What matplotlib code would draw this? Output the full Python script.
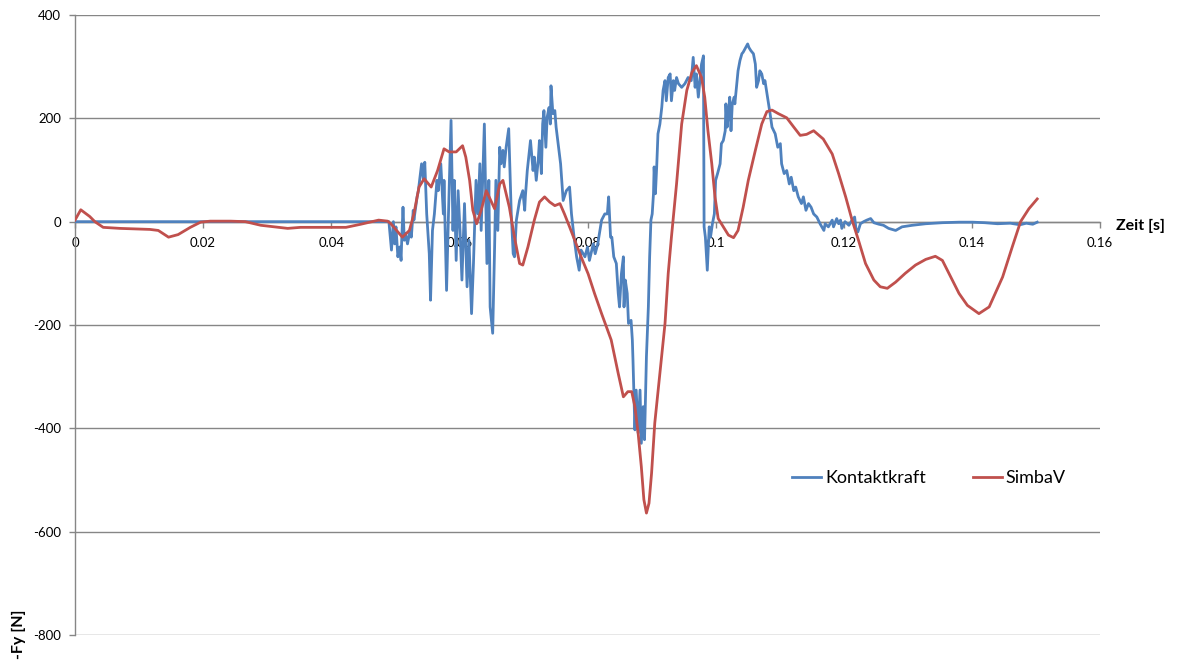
import matplotlib
matplotlib.use("Agg")
import matplotlib.pyplot as plt
import matplotlib.transforms as mtransforms

plt.rcParams['font.family'] = ['Lato', 'DejaVu Sans']

# Kontaktkraft (measured contact force), time in s, force in N
kk_time = [
    0, 0.0488, 0.0490, 0.0494, 0.0497, 0.0499, 0.0501, 0.0504, 0.0507, 0.0509, 0.0510, 0.0512, 0.0514, 0.0516, 0.0519, 0.0523, 0.0525, 0.0528, 0.0529, 0.0534,
    0.0536, 0.0541, 0.0544, 0.0546, 0.0549, 0.0553, 0.0555, 0.0558, 0.0561, 0.0565, 0.0567, 0.0571, 0.0575, 0.0576, 0.0580, 0.0583, 0.0587, 0.0590, 0.0592, 0.0595,
    0.0598, 0.0601, 0.0604, 0.0608, 0.0612, 0.0615, 0.0619, 0.0622, 0.0626, 0.0629, 0.0632, 0.0634, 0.0639, 0.0643, 0.0646, 0.0648, 0.0652, 0.0655, 0.0657, 0.0660,
    0.0663, 0.0665, 0.0668, 0.0670, 0.0673, 0.0677, 0.0681, 0.0684, 0.0686, 0.0689, 0.0694, 0.0699, 0.0702, 0.0703, 0.0706, 0.0711, 0.0715, 0.0717, 0.0720, 0.0723,
    0.0725, 0.0728, 0.0730, 0.0732, 0.0735, 0.0737, 0.0740, 0.0742, 0.0743, 0.0746, 0.0749, 0.0751, 0.0758, 0.0762, 0.0767, 0.0772, 0.0775, 0.0779, 0.0783, 0.0787,
    0.0790, 0.0796, 0.0800, 0.0803, 0.0809, 0.0812, 0.0816, 0.0822, 0.0827, 0.0831, 0.0833, 0.0836, 0.0838, 0.0841, 0.0845, 0.0848, 0.0850, 0.0853, 0.0856, 0.0857,
    0.0859, 0.0862, 0.0864, 0.0868, 0.0870, 0.0871, 0.0874, 0.0876, 0.0879, 0.0882, 0.0884, 0.0887, 0.0889, 0.0892, 0.0895, 0.0897, 0.0899, 0.0901, 0.0903, 0.0904,
    0.0906, 0.0908, 0.0910, 0.0913, 0.0916, 0.0918, 0.0921, 0.0923, 0.0926, 0.0929, 0.0931, 0.0934, 0.0936, 0.0939, 0.0942, 0.0947, 0.0952, 0.0957, 0.0962, 0.0965,
    0.0968, 0.0970, 0.0973, 0.0975, 0.0978, 0.0981, 0.0982, 0.0984, 0.0987, 0.0990, 0.0992, 0.0995, 0.0998, 0.1000, 0.1003, 0.1007, 0.1009, 0.1012, 0.1015, 0.1016,
    0.1018, 0.1020, 0.1022, 0.1024, 0.1026, 0.1029, 0.1030, 0.1033, 0.1035, 0.1038, 0.1041, 0.1043, 0.1047, 0.1050, 0.1052, 0.1055, 0.1059, 0.1062, 0.1064, 0.1067,
    0.1069, 0.1072, 0.1075, 0.1077, 0.1081, 0.1085, 0.1088, 0.1093, 0.1097, 0.1101, 0.1103, 0.1107, 0.1111, 0.1115, 0.1118, 0.1122, 0.1125, 0.1129, 0.1134, 0.1137,
    0.1141, 0.1145, 0.1149, 0.1153, 0.1158, 0.1163, 0.1169, 0.1171, 0.1176, 0.1182, 0.1184, 0.1189, 0.1192, 0.1195, 0.1197, 0.1202, 0.1208, 0.1213, 0.1217, 0.1219,
    0.1222, 0.1226, 0.1231, 0.1236, 0.1242, 0.1247, 0.1255, 0.1262, 0.1270, 0.1281, 0.1291, 0.1307, 0.1328, 0.1354, 0.1380, 0.1401, 0.1420, 0.1440, 0.1460, 0.1475,
    0.1485, 0.1495, 0.1502,
]
kk_force = [
    0, 0, 0, -55, 0, -43, -10, -68, -49, -75, -36, 28, -36, -23, -43, -17, -30, 22, 3, 48,
    60, 112, 80, 115, 15, -62, -152, -17, 15, 80, 60, 112, 15, 80, -133, 15, 196, -17, 80, -75,
    60, -17, -113, 35, -126, -36, -178, -81, 80, 15, 112, -17, 189, -81, 80, -165, -216, -49, 80, -17,
    144, 112, 138, 106, 144, 180, 15, -62, -68, 3, 41, 60, 22, 48, 99, 157, 99, 125, 80, 118,
    157, 93, 189, 215, 144, 202, 221, 189, 263, 209, 215, 183, 112, 41, 60, 67, 15, -30, -68, -94,
    -55, -68, -49, -75, -43, -62, -43, 3, 15, 15, 48, -30, -30, -68, -81, -139, -165, -100, -68, -165,
    -113, -139, -197, -191, -229, -268, -403, -326, -409, -326, -429, -358, -422, -261, -165, -68, 3, 15, 54, 106,
    54, 106, 170, 189, 222, 254, 273, 234, 279, 286, 234, 273, 254, 279, 267, 260, 267, 279, 273, 318,
    260, 286, 241, 267, 305, 321, -10, -30, -94, -10, -30, -4, 15, 80, 93, 112, 151, 157, 176, 228,
    183, 209, 241, 176, 228, 241, 228, 267, 292, 312, 325, 328, 337, 344, 337, 331, 325, 305, 260, 273,
    292, 286, 267, 273, 241, 209, 183, 170, 144, 151, 112, 93, 99, 73, 86, 60, 67, 48, 35, 48,
    22, 35, 28, 15, 9, -4, -17, -4, -10, 3, -10, 6, -4, 3, -13, 0, -7, 3, 9, -13,
    -20, -4, 0, 3, 6, -2, -5, -7, -13, -17, -10, -7, -4, -2, -1, -1, -2, -4, -3, -6,
    -3, -5, -1,
]

# SimbaV (simulation)
sim_time = [
    0, 0.0009, 0.0023, 0.0031, 0.0044, 0.0070, 0.0117, 0.0130, 0.0146, 0.0161, 0.0180, 0.0196, 0.0211, 0.0243, 0.0266, 0.0290, 0.0332, 0.0352, 0.0399, 0.0423, 0.0446, 0.0474, 0.0488,
    0.0493, 0.0511, 0.0522, 0.0529, 0.0537, 0.0545, 0.0556, 0.0566, 0.0576, 0.0584, 0.0595, 0.0605, 0.0610, 0.0616, 0.0621, 0.0627, 0.0634, 0.0642, 0.0649, 0.0655, 0.0663, 0.0668,
    0.0678, 0.0686, 0.0694, 0.0699, 0.0707, 0.0717, 0.0725, 0.0733, 0.0741, 0.0749, 0.0757, 0.0764, 0.0772, 0.0780, 0.0790, 0.0801, 0.0811, 0.0822,
    0.0837, 0.0848, 0.0856, 0.0863, 0.0869, 0.0874, 0.0879, 0.0884, 0.0888, 0.0892, 0.0896, 0.0900, 0.0905, 0.0913, 0.0921, 0.0926, 0.0931, 0.0939, 0.0947, 0.0955, 0.0963, 0.0970,
    0.0978, 0.0983, 0.0988, 0.0994, 0.0999, 0.1004, 0.1012, 0.1020, 0.1028, 0.1035, 0.1043, 0.1051, 0.1062, 0.1072, 0.1080, 0.1088, 0.1098, 0.1111, 0.1122, 0.1132, 0.1142, 0.1153,
    0.1168, 0.1182, 0.1192, 0.1203, 0.1213, 0.1223, 0.1234, 0.1247, 0.1257, 0.1268, 0.1281, 0.1296, 0.1312, 0.1328, 0.1343, 0.1354, 0.1367, 0.1380, 0.1393,
    0.1411, 0.1427, 0.1448, 0.1463, 0.1476, 0.1489, 0.1502,
]
sim_force = [
    3, 23, 10, 0, -11, -13, -15, -17, -30, -25, -11, -1, 1, 1, 0, -7, -13, -11, -11, -11, -5, 3, 1,
    -4, -30, -17, 15, 67, 83, 67, 99, 141, 135, 135, 147, 125, 80, 22, -4, 22, 60, 41, 25, 73, 80,
    28, -30, -81, -84, -49, 3, 38, 48, 38, 31, 35, 15, -10, -36, -68, -101, -139, -178,
    -229, -294, -339, -329, -329, -358, -409, -474, -538, -564, -545, -487, -390, -294, -197, -100, -30, 73, 189, 254, 289, 302,
    279, 241, 176, 112, 48, 6, -10, -26, -31, -17, 28, 80, 138, 189, 213, 216, 209, 201, 183, 167, 169, 176,
    160, 131, 93, 48, 3, -36, -81, -113, -126, -129, -117, -100, -84, -73, -67, -75, -107, -139, -162,
    -178, -165, -107, -49, 0, 25, 44,
]

x_ticks = [0, 0.02, 0.04, 0.06, 0.08, 0.1, 0.12, 0.14, 0.16]
x_labels = ['0', '0.02', '0.04', '0.06', '0.08', '0.1', '0.12', '0.14', '0.16']
y_ticks = [-800, -600, -400, -200, 0, 200, 400]
y_labels = ['-800', '-600', '-400', '-200', '0', '200', '400']

grey = '#868686'

fig = plt.figure(figsize=(11.8, 6.61), dpi=100)
ax = fig.add_axes([75 / 1180, 26 / 661, 1025 / 1180, 620 / 661])

ax.plot(kk_time, kk_force, color='#4F81BD', lw=2.0, label='Kontaktkraft', zorder=3)
ax.plot(sim_time, sim_force, color='#C0504D', lw=2.0, label='SimbaV', zorder=4)

ax.set_xlim(0, 0.16)
ax.set_ylim(-800, 400)
ax.set_xticks(x_ticks)
ax.set_xticklabels(x_labels)
ax.set_yticks(y_ticks)
ax.set_yticklabels(y_labels)

ax.spines['top'].set_visible(False)
ax.spines['right'].set_visible(False)
ax.spines['bottom'].set_position(('data', 0))
for s in ('left', 'bottom'):
    ax.spines[s].set_color(grey)
    ax.spines[s].set_linewidth(1.0)

ax.yaxis.grid(True, color=grey, lw=1.0)
ax.set_axisbelow(True)
ax.tick_params(axis='both', colors=grey, labelcolor='black', labelsize=9.5, length=4, width=1)
ax.tick_params(axis='x', pad=7)
ax.tick_params(axis='y', pad=6)

# axis titles
trans = mtransforms.blended_transform_factory(ax.transAxes, ax.transData)
ax.text(1.016, -8, 'Zeit [s]', transform=trans, ha='left', va='center',
        fontsize=11.5, fontweight='bold')
fig.text(19 / 1180, 1 - 634 / 661, '-Fy [N]', rotation=90, ha='center', va='center',
         fontsize=11.5, fontweight='bold')

ax.legend(loc='center', bbox_to_anchor=(0.833, 0.253), ncol=2, frameon=False,
          fontsize=13, handlelength=1.6, handletextpad=0.2, columnspacing=2.6)

fig.savefig('out.png', dpi=100)
